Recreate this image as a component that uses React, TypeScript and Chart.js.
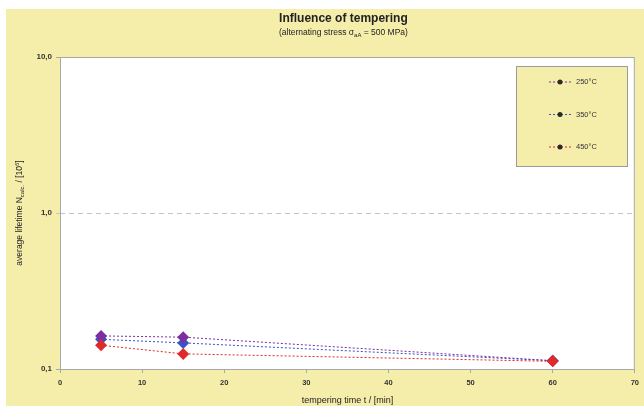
import React, { useEffect, useRef } from "react";
import { Chart, registerables } from "chart.js";

Chart.register(...registerables);

const times = [5, 15, 60];
const series250 = [0.163, 0.16, 0.113];
const series350 = [0.155, 0.147, 0.113];
const series450 = [0.142, 0.125, 0.112];
const seriesLabels = ["250°C", "350°C", "450°C"];
const seriesColors = ["#7b2fa0", "#3a52c4", "#e02a2a"];
const yTickValues = [0.1, 1, 10];
const xMin = 0;
const xMax = 70;

const titleText = "Influence of tempering";
const FONT = "'Liberation Sans', Arial, sans-serif";
const YELLOW = "#f5eeab";

// parts: [text, mode] where mode 0 = normal, 1 = subscript, 2 = superscript
function drawRichText(ctx: CanvasRenderingContext2D, parts: [string, number][], size: number, weight: string) {
  const widths: number[] = [];
  for (const [t, mode] of parts) {
    ctx.font = `${weight} ${mode ? size * 0.7 : size}px ${FONT}`;
    widths.push(ctx.measureText(t).width);
  }
  const total = widths.reduce((a, b) => a + b, 0);
  let x = -total / 2;
  parts.forEach(([t, mode], i) => {
    ctx.font = `${weight} ${mode ? size * 0.7 : size}px ${FONT}`;
    const dy = mode === 1 ? size * 0.3 : mode === 2 ? -size * 0.3 : 0;
    ctx.fillText(t, x, dy);
    x += widths[i];
  });
}

const decorPlugin = {
  id: "decor",
  beforeDraw(chart: any) {
    const { ctx, width, height, chartArea } = chart;
    ctx.save();
    ctx.fillStyle = "#ffffff";
    ctx.fillRect(0, 0, width, height);
    ctx.fillStyle = YELLOW;
    ctx.fillRect(6, 9, width - 6, height - 9);
    ctx.fillStyle = "#ffffff";
    ctx.fillRect(chartArea.left, chartArea.top, chartArea.right - chartArea.left, chartArea.bottom - chartArea.top);
    ctx.restore();
  },
  afterDraw(chart: any) {
    const { ctx, chartArea } = chart;
    const cx = (chartArea.left + chartArea.right) / 2 - 4;
    ctx.save();
    ctx.strokeStyle = "#a8a8a8";
    ctx.lineWidth = 1;
    ctx.strokeRect(chartArea.left + 0.5, chartArea.top + 0.5, chartArea.right - chartArea.left - 1, chartArea.bottom - chartArea.top);
    ctx.fillStyle = "#222";
    ctx.textBaseline = "middle";
    ctx.font = `bold 12px ${FONT}`;
    ctx.textAlign = "center";
    ctx.fillText(titleText, cx, 19);
    ctx.textAlign = "left";
    ctx.save();
    ctx.translate(cx, 33);
    drawRichText(ctx, [["(alternating stress σ", 0], ["aA", 1], [" = 500 MPa)", 0]], 8.5, "normal");
    ctx.restore();
    ctx.save();
    ctx.translate(20, (chartArea.top + chartArea.bottom) / 2);
    ctx.rotate(-Math.PI / 2);
    drawRichText(ctx, [["average lifetime N", 0], ["calc.", 1], [" / [10", 0], ["6", 2], ["]", 0]], 8.5, "normal");
    ctx.restore();
    // legend
    const bx = 516, by = 66, bw = 111, bh = 100;
    ctx.fillStyle = YELLOW;
    ctx.fillRect(bx, by, bw, bh);
    ctx.strokeStyle = "#9a9a9a";
    ctx.strokeRect(bx + 0.5, by + 0.5, bw, bh);
    chart.data.datasets.forEach((ds: any, i: number) => {
      const y = 82 + i * 32.5;
      ctx.strokeStyle = ds.borderColor;
      ctx.setLineDash([2, 2]);
      ctx.beginPath();
      ctx.moveTo(549, y);
      ctx.lineTo(571, y);
      ctx.stroke();
      ctx.setLineDash([]);
      ctx.fillStyle = "#2a2a2a";
      ctx.beginPath();
      ctx.arc(560, y, 2.5, 0, Math.PI * 2);
      ctx.fill();
      ctx.fillStyle = "#333";
      ctx.font = `7.5px ${FONT}`;
      ctx.textAlign = "left";
      ctx.fillText(ds.label, 576, y);
    });
    ctx.restore();
  },
};

export default function App() {
  const ref = useRef<HTMLCanvasElement | null>(null);
  useEffect(() => {
    document.body.style.margin = "0";
    const canvas = ref.current!;
    const allSeries = [series250, series350, series450];
    const drawOrder = [1, 2, 0];
    const chart = new Chart(canvas, {
      type: "line",
      data: {
        datasets: allSeries.map((s, i) => ({
          label: seriesLabels[i],
          data: times.map((t, j) => ({ x: t, y: s[j] })),
          borderColor: seriesColors[i],
          backgroundColor: seriesColors[i],
          borderWidth: 1,
          borderDash: [2, 2],
          pointStyle: "rectRot",
          pointRadius: 6,
          pointBorderWidth: 0,
          order: drawOrder[i],
          fill: false,
          tension: 0,
        })),
      },
      options: {
        animation: false,
        responsive: false,
        devicePixelRatio: 1,
        layout: { padding: { left: 6, top: 57, right: 7, bottom: 0 } },
        plugins: { legend: { display: false }, tooltip: { enabled: false }, title: { display: false } },
        scales: {
          x: {
            type: "linear",
            min: xMin,
            max: xMax,
            ticks: {
              stepSize: 10,
              color: "#333",
              font: { size: 7.5, weight: "bold", family: FONT },
              padding: 5,
            },
            grid: { drawOnChartArea: false, drawTicks: true, tickLength: 4, color: "#a8a8a8" },
            border: { display: false },
            title: {
              display: true,
              text: "tempering time t / [min]",
              color: "#222",
              font: { size: 9, family: FONT },
              padding: { top: 0, bottom: 0 },
            },
            afterFit: (s: any) => {
              s.height = 37;
            },
          },
          y: {
            type: "logarithmic",
            min: 0.1,
            max: 10,
            afterBuildTicks: (s: any) => {
              s.ticks = yTickValues.map((v) => ({ value: v }));
            },
            ticks: {
              color: "#333",
              font: { size: 8, weight: "bold", family: FONT },
              padding: 4,
              callback: (v: any) => Number(v).toFixed(1).replace(".", ","),
            },
            grid: {
              color: (c: any) => (c.tick && c.tick.value === 1 ? "#c4c4c4" : "#a8a8a8"),
              tickLength: 4,
            },
            border: { display: false, dash: [5, 4] },
            afterFit: (s: any) => {
              s.width = 54;
            },
          },
        },
      },
      plugins: [decorPlugin],
    } as any);
    return () => chart.destroy();
  }, []);
  return (
    <div style={{ position: "relative", width: 644, height: 406 }}>
      <canvas ref={ref} width={644} height={406} style={{ width: 644, height: 406, display: "block" }} />
    </div>
  );
}
